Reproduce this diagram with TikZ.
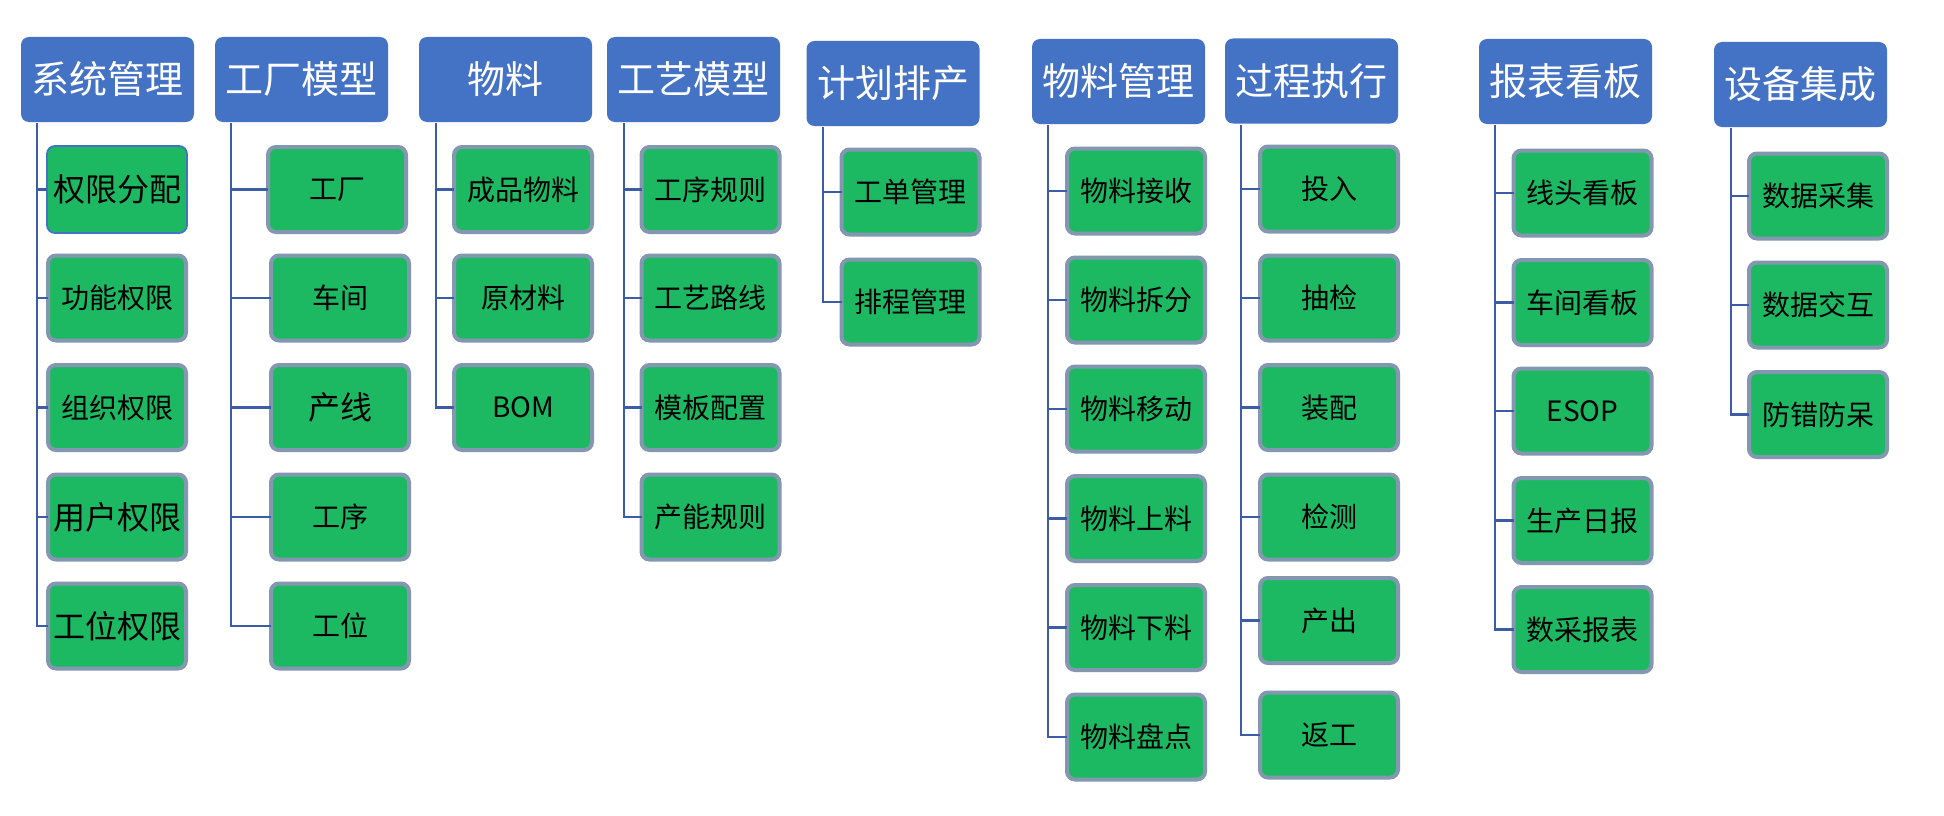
\documentclass[tikz,border=0pt]{standalone}
\usepackage{fontspec}
\setmainfont{Noto Sans CJK SC}
\definecolor{hdrblue}{HTML}{4472C4}
\definecolor{leafgreen}{RGB}{29,185,98}
\definecolor{leafborder}{HTML}{8497B0}
\definecolor{connblue}{HTML}{3C5DA5}
\begin{document}
\begin{tikzpicture}[x=1pt,y=-1pt,
  hdr/.style={fill=hdrblue, draw=none, rounded corners=8pt, minimum width=173pt, minimum height=85pt,
    inner sep=0pt, outer sep=0pt, text=white, font=\fontsize{38}{40}\selectfont},
  leaf/.style={fill=leafgreen, draw=leafborder, line width=4pt, rounded corners=8pt,
    minimum width=138pt, minimum height=85pt, inner sep=0pt, outer sep=0pt, text=black,
    font=\fontsize{28}{30}\selectfont},
  big/.style={font=\fontsize{32}{34}\selectfont},
  bluerim/.style={draw=hdrblue, line width=1.8pt, minimum width=140pt, minimum height=87pt},
  conn/.style={draw=connblue, line width=2.2pt}]
\useasboundingbox (0,0) rectangle (1944,816);
\fill[white] (0,0) rectangle (1944,816);

% ---------- connectors first (drawn beneath the boxes)
\coordinate (t1) at (37,123);
\coordinate (t2) at (231,123);
\coordinate (t3) at (436,123);
\coordinate (t4) at (624,123);
\coordinate (t5) at (823,127);
\coordinate (t6) at (1048,125);
\coordinate (t7) at (1241,125);
\coordinate (t8) at (1495,125);
\coordinate (t9) at (1731,128);

% ---------- column 1
\node[hdr] (h1) at (107.5,79.5) {系统管理};
\node[leaf,big,bluerim] (a1) at (117,189.5) {权限分配};
\node[leaf] (a2) at (117,298) {功能权限};
\node[leaf] (a3) at (117,407.5) {组织权限};
\node[leaf,big] (a4) at (117,517) {用户权限};
\node[leaf,big] (a5) at (117,626) {工位权限};

% ---------- column 2
\node[hdr] (h2) at (301.5,79.5) {工厂模型};
\node[leaf] (b1) at (337,189.5) {工厂};
\node[leaf] (b2) at (340,298) {车间};
\node[leaf,big] (b3) at (340,407.5) {产线};
\node[leaf] (b4) at (340,517) {工序};
\node[leaf] (b5) at (340,626) {工位};

% ---------- column 3
\node[hdr] (h3) at (505.5,79.5) {物料};
\node[leaf] (c1) at (523,189.5) {成品物料};
\node[leaf] (c2) at (523,298) {原材料};
\node[leaf] (c3) at (523,407.5) {BOM};

% ---------- column 4
\node[hdr] (h4) at (693.5,79.5) {工艺模型};
\node[leaf] (d1) at (710.5,189.5) {工序规则};
\node[leaf] (d2) at (710.5,298) {工艺路线};
\node[leaf] (d3) at (710.5,407.5) {模板配置};
\node[leaf] (d4) at (710.5,517) {产能规则};

% ---------- column 5
\node[hdr] (h5) at (893,83.5) {计划排产};
\node[leaf] (e1) at (910.5,192) {工单管理};
\node[leaf] (e2) at (910.5,302) {排程管理};

% ---------- column 6
\node[hdr] (h6) at (1118.5,81.5) {物料管理};
\node[leaf] (f1) at (1136,191) {物料接收};
\node[leaf] (f2) at (1136,300) {物料拆分};
\node[leaf] (f3) at (1136,409) {物料移动};
\node[leaf] (f4) at (1136,518.5) {物料上料};
\node[leaf] (f5) at (1136,627.5) {物料下料};
\node[leaf] (f6) at (1136,737) {物料盘点};

% ---------- column 7
\node[hdr] (h7) at (1311.5,81) {过程执行};
\node[leaf] (g1) at (1329,189) {投入};
\node[leaf] (g2) at (1329,298) {抽检};
\node[leaf] (g3) at (1329,407.5) {装配};
\node[leaf] (g4) at (1329,517) {检测};
\node[leaf] (g5) at (1329,620.5) {产出};
\node[leaf] (g6) at (1329,735) {返工};

% ---------- column 8
\node[hdr] (h8) at (1565.5,81.5) {报表看板};
\node[leaf] (k1) at (1582.5,193) {线头看板};
\node[leaf] (k2) at (1582.5,302.5) {车间看板};
\node[leaf] (k3) at (1582.5,411) {ESOP};
\node[leaf] (k4) at (1582.5,520.5) {生产日报};
\node[leaf] (k5) at (1582.5,629.5) {数采报表};

% ---------- column 9
\node[hdr] (h9) at (1800.5,84.5) {设备集成};
\node[leaf] (m1) at (1818,196) {数据采集};
\node[leaf] (m2) at (1818,305) {数据交互};
\node[leaf] (m3) at (1818,414.5) {防错防呆};

% ---------- connectors
\foreach \t/\list in {t1/{a1,a2,a3,a4,a5}, t2/{b1,b2,b3,b4,b5}, t3/{c1,c2,c3},
  t4/{d1,d2,d3,d4}, t5/{e1,e2}, t6/{f1,f2,f3,f4,f5,f6}, t7/{g1,g2,g3,g4,g5,g6},
  t8/{k1,k2,k3,k4,k5}, t9/{m1,m2,m3}}{
  \foreach \c in \list { \draw[conn] (\t) |- (\c.west); }
}
\end{tikzpicture}
\end{document}
